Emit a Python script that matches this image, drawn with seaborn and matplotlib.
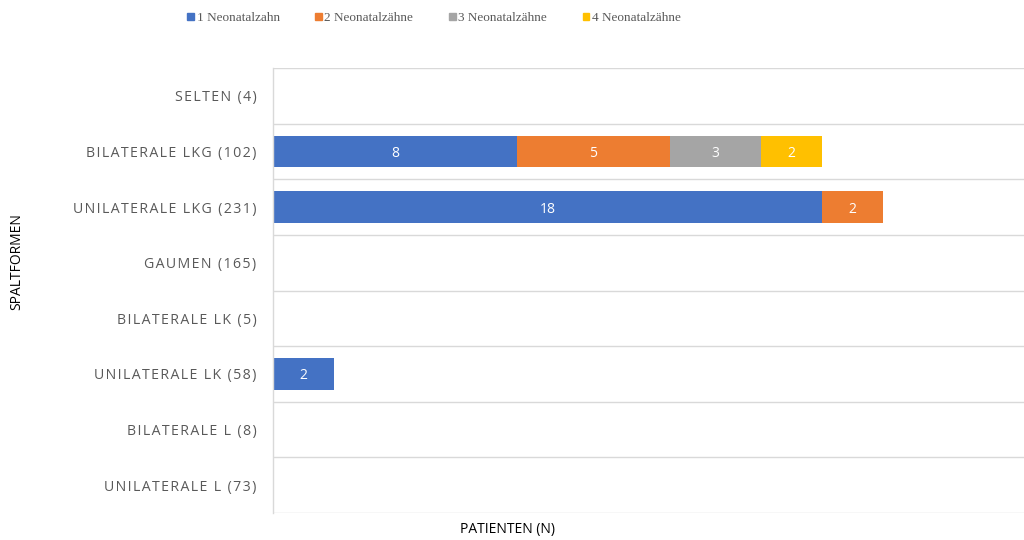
import matplotlib
matplotlib.use("Agg")
import matplotlib.pyplot as plt
import matplotlib.patches as mpatches
import seaborn as sns
import pandas as pd
import numpy as np

categories = ["SELTEN (4)", "BILATERALE LKG (102)", "UNILATERALE LKG (231)", "GAUMEN (165)",
              "BILATERALE LK (5)", "UNILATERALE LK (58)", "BILATERALE L (8)", "UNILATERALE L (73)"]
series_names = ["1 Neonatalzahn", "2 Neonatalzähne", "3 Neonatalzähne", "4 Neonatalzähne"]
s1 = [0, 8, 18, 0, 0, 2, 0, 0]
s2 = [0, 5, 2, 0, 0, 0, 0, 0]
s3 = [0, 3, 0, 0, 0, 0, 0, 0]
s4 = [0, 2, 0, 0, 0, 0, 0, 0]
colors = ["#4472C4", "#ED7D31", "#A5A5A5", "#FFC000"]

sns.set_theme(style="white")
plt.rcParams['font.family'] = ['Open Sans', 'DejaVu Sans']

series = [s1, s2, s3, s4]
df = pd.DataFrame({"cat": categories})
cum = np.zeros(len(categories))
for name, s in zip(series_names, series):
    cum = cum + np.array(s, dtype=float)
    df[name] = cum.copy()

fig = plt.figure(figsize=(10.24, 5.4), dpi=100)
ax = fig.add_axes([273/1024, 1 - 513/540, 1 - 273/1024, (513-68)/540])

for name, c in reversed(list(zip(series_names, colors))):
    sns.barplot(data=df, y="cat", x=name, orient="h", color=c, width=0.56,
                saturation=1, ax=ax, order=categories, linewidth=0)

# segment labels
left = np.zeros(len(categories))
for s in series:
    for i, v in enumerate(s):
        if v > 0:
            ax.text(left[i] + v / 2, i, str(v), ha="center", va="center_baseline",
                    color="white", fontsize=10)
    left = left + np.array(s)

ax.set_xlim(0, (1024 - 273) / 30.5)
ax.set_ylim(len(categories) - 0.5, -0.5)
for b in np.arange(-0.5, len(categories), 1.0):
    ax.axhline(b, color="#D9D9D9", lw=1, zorder=0)
ax.set_xticks([])
for sp in ["top", "right", "bottom"]:
    ax.spines[sp].set_visible(False)
ax.spines["left"].set_color("#D9D9D9")
ax.spines["left"].set_linewidth(1)

# letter-spaced category labels
spaced = ["\u200a".join(list(c)) for c in categories]
ax.set_yticks(range(len(categories)))
ax.set_yticklabels(spaced)
ax.tick_params(axis="y", length=0, pad=12, labelsize=10.2, labelcolor="#595959")
ax.set_ylabel("")
ax.set_xlabel("")

fig.text(17/1024, 1 - 262/540, "SPALTFORMEN", rotation=90, ha="center", va="center",
         fontsize=10, color="black")
fig.text(508/1024, 1 - 530/540, "PATIENTEN (N)", ha="center", va="center",
         fontsize=10, color="black")

handles = [mpatches.Patch(color=c, label=n) for n, c in zip(series_names, colors)]
leg = fig.legend(handles=handles, loc="center", bbox_to_anchor=(434/1024, 1 - 18/540),
                 ncol=4, frameon=False, handlelength=0.5, handleheight=0.5,
                 handletextpad=0.2, columnspacing=2.7,
                 prop={"family": "Liberation Serif", "size": 9.5})
for t in leg.get_texts():
    t.set_color("#595959")

fig.savefig("out.png", dpi=100)
